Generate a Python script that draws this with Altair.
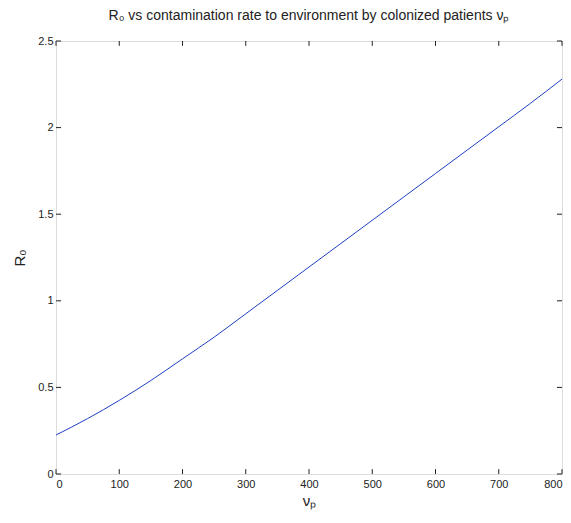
import altair as alt
import pandas as pd

nu_p = [0, 50, 100, 150, 200, 250, 300, 350, 400, 450, 500, 550, 600, 650, 700, 750, 800]
r0 = [0.225, 0.32, 0.425, 0.54, 0.665, 0.79, 0.925, 1.06, 1.195, 1.33, 1.465, 1.60, 1.735, 1.87, 2.005, 2.14, 2.28]

x_ticks = [0, 100, 200, 300, 400, 500, 600, 700, 800]
y_ticks = [0, 0.5, 1, 1.5, 2, 2.5]

df = pd.DataFrame({"nu": nu_p, "r0": r0})

FONT = "Liberation Sans"
xs = alt.Scale(domain=[0, 800], nice=False)
ys = alt.Scale(domain=[0, 2.5], nice=False)

line = alt.Chart(df).mark_line(color="#1f3fc4", strokeWidth=1, interpolate="monotone").encode(
    x=alt.X("nu:Q", scale=xs,
            axis=alt.Axis(values=x_ticks, title="νₚ", tickSize=0, labelPadding=4, domain=False,
                          grid=False, titleFontSize=15, titleFontWeight="normal", titlePadding=4,
                          labelFont=FONT, titleFont=FONT, labelFontSize=11, labelColor="#222",
                          titleColor="#222")),
    y=alt.Y("r0:Q", scale=ys,
            axis=alt.Axis(values=y_ticks, title="R₀", tickSize=0, labelPadding=3, domain=False,
                          grid=False, titleFontSize=15, titleFontWeight="normal", titlePadding=10,
                          format="~g",
                          labelFont=FONT, titleFont=FONT, labelFontSize=11, labelColor="#222",
                          titleColor="#222", labelFlush=False)),
)

xt = pd.DataFrame({"x": x_ticks})
yt = pd.DataFrame({"y": y_ticks})

tick_len_y = 0.028  # in data units (about 5 px)
tick_len_x = 8.0

bottom_ticks = alt.Chart(xt).transform_calculate(y0="0", y1=str(tick_len_y)).mark_rule(
    color="#222", strokeWidth=1).encode(
    x=alt.X("x:Q", scale=xs), y=alt.Y("y0:Q", scale=ys), y2="y1:Q")
top_ticks = alt.Chart(xt).transform_calculate(y0="2.5", y1=str(2.5 - tick_len_y)).mark_rule(
    color="#222", strokeWidth=1).encode(
    x=alt.X("x:Q", scale=xs), y=alt.Y("y0:Q", scale=ys), y2="y1:Q")
left_ticks = alt.Chart(yt).transform_calculate(x0="0", x1=str(tick_len_x)).mark_rule(
    color="#222", strokeWidth=1).encode(
    y=alt.Y("y:Q", scale=ys), x=alt.X("x0:Q", scale=xs), x2="x1:Q")
right_ticks = alt.Chart(yt).transform_calculate(x0="800", x1=str(800 - tick_len_x)).mark_rule(
    color="#222", strokeWidth=1).encode(
    y=alt.Y("y:Q", scale=ys), x=alt.X("x0:Q", scale=xs), x2="x1:Q")

chart = alt.layer(line, bottom_ticks, top_ticks, left_ticks, right_ticks).properties(
    width=506, height=433,
    title=alt.TitleParams("R₀ vs contamination rate to environment by colonized patients νₚ",
                          font=FONT, fontSize=14, fontWeight="normal", color="#222", offset=12),
    autosize=alt.AutoSizeParams(type="none"),
    padding={"left": 56, "top": 41, "right": 9, "bottom": 49},
).configure_view(stroke="#222", strokeWidth=1).configure(background="white")

chart.save("out.html", embed_options={"renderer": "svg", "actions": False})
